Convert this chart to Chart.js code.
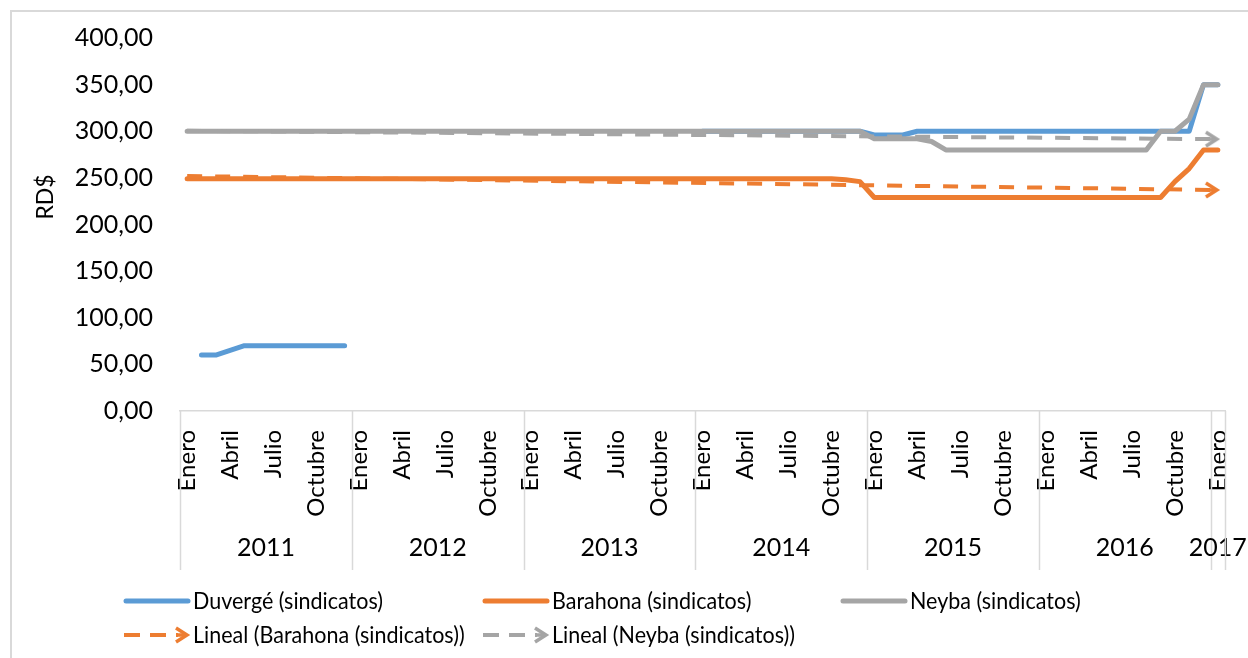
<!DOCTYPE html>
<html><head><meta charset="utf-8">
<script src="https://cdn.jsdelivr.net/npm/chart.js@4"></script>
<style>html,body{margin:0;padding:0;background:#fff;overflow:hidden}</style>
</head><body>
<canvas id="c" width="1248" height="658"></canvas>
<script>
// ---------- data ----------
const years = ['2011','2012','2013','2014','2015','2016','2017'];
const months = ['Enero','Febrero','Marzo','Abril','Mayo','Junio','Julio','Agosto','Septiembre','Octubre','Noviembre','Diciembre'];
const shownMonths = ['Enero','Abril','Julio','Octubre'];
const yTicks = [0, 50, 100, 150, 200, 250, 300, 350, 400];

const duverge = [
  null, 60, 60, 65, 70, 70, 70, 70, 70, 70, 70, 70,
  null, null, null, null, null, null, null, null, null, null, null, null,
  null, null, null, null, null, null, null, null, null, null, null, null,
  300, 300, 300, 300, 300, 300, 300, 300, 300, 300, 300, 300,
  296, 296, 296, 300, 300, 300, 300, 300, 300, 300, 300, 300,
  300, 300, 300, 300, 300, 300, 300, 300, 300, 300, 300, 350,
  350
];
const barahona = [
  249, 249, 249, 249, 249, 249, 249, 249, 249, 249, 249, 249,
  249, 249, 249, 249, 249, 249, 249, 249, 249, 249, 249, 249,
  249, 249, 249, 249, 249, 249, 249, 249, 249, 249, 249, 249,
  249, 249, 249, 249, 249, 249, 249, 249, 249, 249, 248, 246,
  229, 229, 229, 229, 229, 229, 229, 229, 229, 229, 229, 229,
  229, 229, 229, 229, 229, 229, 229, 229, 229, 246, 260, 280,
  280
];
const neyba = [
  300, 300, 300, 300, 300, 300, 300, 300, 300, 300, 300, 300,
  300, 300, 300, 300, 300, 300, 300, 300, 300, 300, 300, 300,
  300, 300, 300, 300, 300, 300, 300, 300, 300, 300, 300, 300,
  300, 300, 300, 300, 300, 300, 300, 300, 300, 300, 300, 300,
  292, 292, 292, 292, 289, 280, 280, 280, 280, 280, 280, 280,
  280, 280, 280, 280, 280, 280, 280, 280, 300, 300, 313, 350,
  350
];
// trend lines: start and end values
const linealBarahonaEnds = [252, 237];
const linealNeybaEnds = [300.5, 291.5];

const seriesNames = ['Duvergé (sindicatos)', 'Barahona (sindicatos)', 'Neyba (sindicatos)',
  'Lineal (Barahona (sindicatos))', 'Lineal (Neyba (sindicatos))'];

// ---------- build ----------
const categories = [];
years.forEach(y => (y === '2017' ? ['Enero'] : months).forEach(m => categories.push(m + ' ' + y)));
function endsSeries(ends) {
  return categories.map((_, i) => i === 0 ? ends[0] : (i === categories.length - 1 ? ends[1] : null));
}

const BLUE = '#5B9BD5', ORANGE = '#ED7D31', GRAY = '#A5A5A5';
const FONT = 'Lato';

function makeArrow(color) {
  const c = document.createElement('canvas');
  c.width = 34; c.height = 20;
  const g = c.getContext('2d');
  g.strokeStyle = color; g.lineWidth = 3.5; g.lineJoin = 'miter'; g.lineCap = 'butt';
  g.beginPath();
  g.moveTo(5, 3); g.lineTo(16, 10); g.lineTo(5, 17);
  g.stroke();
  g.beginPath(); g.moveTo(7, 10); g.lineTo(15, 10); g.stroke();
  return c;
}
const arrowOrange = makeArrow(ORANGE), arrowGray = makeArrow(GRAY);

const lastIdx = categories.length - 1;
function trendDataset(label, data, color, arrow, order) {
  return {
    label, data, borderColor: color, backgroundColor: color, borderWidth: 4,
    borderDash: [15, 13], spanGaps: true, tension: 0, order,
    pointStyle: arrow,
    pointRadius: ctx => ctx.dataIndex === lastIdx ? 6 : 0,
    pointHoverRadius: 0, borderCapStyle: 'butt'
  };
}
function mainDataset(label, data, color, order) {
  return {
    label, data, borderColor: color, backgroundColor: color, borderWidth: 5,
    pointRadius: 0, pointHoverRadius: 0, tension: 0, spanGaps: false, order,
    borderCapStyle: 'round', borderJoinStyle: 'round'
  };
}

const decor = {
  id: 'decor',
  beforeDraw(chart) {
    const ctx = chart.ctx;
    ctx.save();
    ctx.fillStyle = '#fff'; ctx.fillRect(0, 0, chart.width, chart.height);
    ctx.strokeStyle = '#d9d9d9'; ctx.lineWidth = 2;
    ctx.beginPath(); ctx.moveTo(11, chart.height); ctx.lineTo(11, 11); ctx.lineTo(chart.width, 11); ctx.stroke();
    ctx.restore();
  },
  afterDraw(chart) {
    const ctx = chart.ctx, xs = chart.scales.x, area = chart.chartArea;
    const half = (xs.getPixelForValue(1) - xs.getPixelForValue(0)) / 2;
    ctx.save();
    // year separators and labels
    ctx.strokeStyle = '#d9d9d9'; ctx.lineWidth = 1.5;
    ctx.fillStyle = '#000'; ctx.font = '25px ' + FONT; ctx.textAlign = 'center'; ctx.textBaseline = 'middle';
    let idx = 0;
    years.forEach(y => {
      const n = categories.filter(c => c.endsWith(y)).length;
      const x0 = xs.getPixelForValue(idx) - half;
      const x1 = xs.getPixelForValue(idx + n - 1) + half;
      ctx.beginPath(); ctx.moveTo(Math.round(x0) + 0.5, area.bottom); ctx.lineTo(Math.round(x0) + 0.5, 570); ctx.stroke();
      ctx.fillText(y, (x0 + x1) / 2, 548);
      idx += n;
    });
    const xe = xs.getPixelForValue(lastIdx) + half;
    ctx.beginPath(); ctx.moveTo(Math.round(xe) + 0.5, area.bottom); ctx.lineTo(Math.round(xe) + 0.5, 570); ctx.stroke();

    // y axis title
    ctx.save();
    ctx.translate(46, 197); ctx.rotate(-Math.PI / 2);
    ctx.font = '23px ' + FONT; ctx.textAlign = 'center'; ctx.textBaseline = 'middle';
    ctx.fillText('RD$', 0, 0);
    ctx.restore();

    // legend
    const items = [
      { ds: 0, x: 124, y: 601 }, { ds: 1, x: 483, y: 601 }, { ds: 2, x: 841, y: 601 },
      { ds: 3, x: 124, y: 635 }, { ds: 4, x: 483, y: 635 }
    ];
    ctx.font = '23px ' + FONT;
    const sx = 190 / ctx.measureText(chart.data.datasets[0].label).width;
    items.forEach(it => {
      const ds = chart.data.datasets[it.ds];
      ctx.save();
      ctx.strokeStyle = ds.borderColor;
      if (ds.borderDash) {
        ctx.lineWidth = 4; ctx.setLineDash([16, 10]); ctx.lineCap = 'butt';
        ctx.beginPath(); ctx.moveTo(it.x, it.y); ctx.lineTo(it.x + 54, it.y); ctx.stroke();
        ctx.setLineDash([]);
        ctx.drawImage(ds.pointStyle, it.x + 64 - 17, it.y - 10);
      } else {
        ctx.lineWidth = 5; ctx.lineCap = 'round';
        ctx.beginPath(); ctx.moveTo(it.x + 2, it.y); ctx.lineTo(it.x + 64, it.y); ctx.stroke();
      }
      ctx.restore();
      ctx.save();
      ctx.translate(it.x + 69, it.y);
      ctx.scale(sx, 1);
      ctx.fillStyle = '#000'; ctx.textAlign = 'left'; ctx.textBaseline = 'middle';
      ctx.fillText(ds.label, 0, 1);
      ctx.restore();
    });
    ctx.restore();
  }
};

new Chart(document.getElementById('c'), {
  type: 'line',
  data: {
    labels: categories,
    datasets: [
      mainDataset(seriesNames[0], duverge, BLUE, 4),
      mainDataset(seriesNames[1], barahona, ORANGE, 3),
      mainDataset(seriesNames[2], neyba, GRAY, 2),
      trendDataset(seriesNames[3], endsSeries(linealBarahonaEnds), ORANGE, arrowOrange, 1),
      trendDataset(seriesNames[4], endsSeries(linealNeybaEnds), GRAY, arrowGray, 0)
    ]
  },
  options: {
    responsive: false, animation: false, devicePixelRatio: 1,
    layout: { padding: { left: 0, right: 23, top: 38, bottom: 0 } },
    plugins: { legend: { display: false }, tooltip: { enabled: false }, title: { display: false } },
    events: [],
    scales: {
      x: {
        type: 'category', offset: true,
        grid: { display: false, drawTicks: false },
        border: { display: true, color: '#d9d9d9', width: 1.5 },
        ticks: {
          autoSkip: false, minRotation: 90, maxRotation: 90, padding: 19,
          color: '#000', font: { family: FONT, size: 24 },
          callback(v) { const m = this.getLabelForValue(v).split(' ')[0]; return shownMonths.includes(m) ? m : ''; }
        },
        afterFit(s) { s.height = 658 - 411; s.paddingLeft = 0; s.paddingRight = 0; }
      },
      y: {
        min: 0, max: 400,
        afterBuildTicks(s) { s.ticks = yTicks.map(v => ({ value: v })); },
        grid: { display: false, drawTicks: false },
        border: { display: false },
        ticks: {
          padding: 27, color: '#000', font: { family: FONT, size: 25 },
          callback(v) { return v.toFixed(2).replace('.', ','); }
        },
        afterFit(s) { s.width = 180; s.paddingTop = 0; s.paddingBottom = 0; }
      }
    }
  },
  plugins: [decor]
});
</script>
</body></html>
